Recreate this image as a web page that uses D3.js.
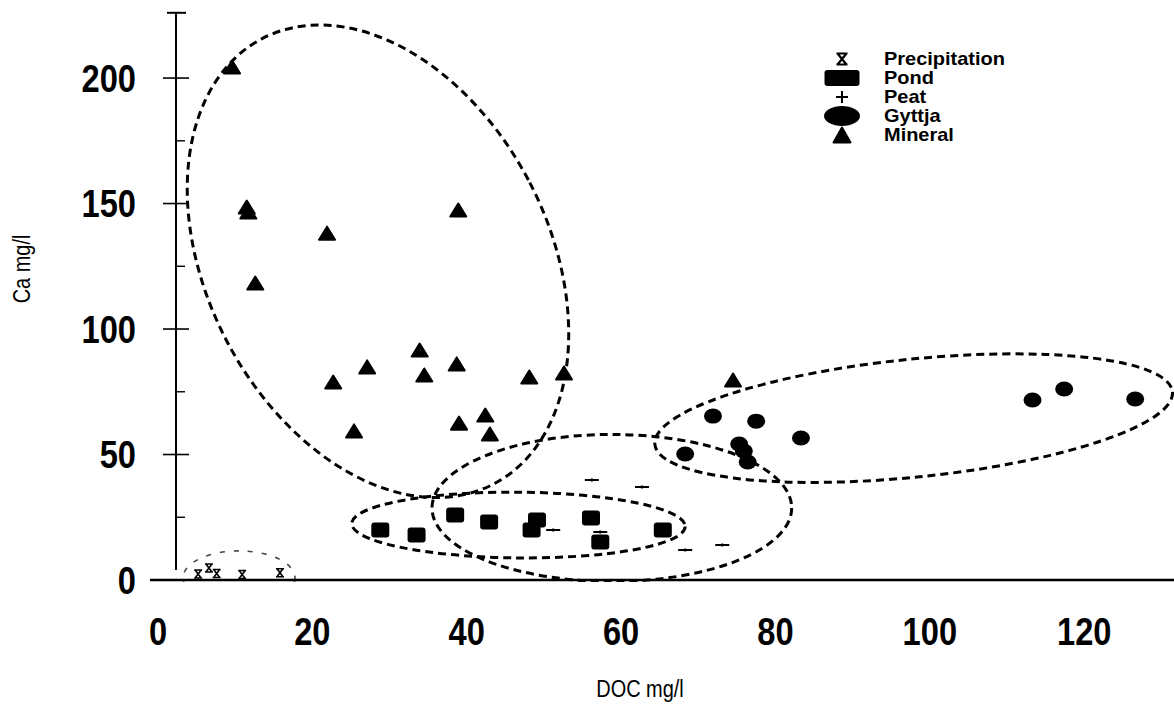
<!DOCTYPE html>
<html><head><meta charset="utf-8">
<script src="https://cdn.jsdelivr.net/npm/d3@7"></script>
<style>body{margin:0;background:#fff}svg{display:block;background:#fff}</style>
</head><body>
<svg id="chart" width="1174" height="705"></svg>
<script>
// ---- data (DOC mg/l, Ca mg/l) ----
const precipitation = [[5.2,0.8],[6.6,3.2],[7.6,1.0],[10.9,0.6],[15.8,1.3]];
const pond = [[28.8,19.9],[33.5,17.9],[38.5,25.9],[42.9,23.1],[49.1,23.9],[48.4,19.9],[56.1,24.7],[57.3,15.1],[65.4,19.9]];
const peat = [[56.2,39.8],[62.7,37.1],[51.2,19.9],[57.3,19.1],[68.3,12.0],[73.1,13.9]];
const gyttja = [[71.9,65.3],[77.5,63.3],[83.3,56.6],[68.3,50.2],[75.3,54.2],[75.9,51.4],[76.4,47.0],[113.3,71.7],[117.4,76.1],[126.6,72.1]];
const mineral = [[9.6,204.4],[11.5,148.6],[11.7,146.6],[21.9,138.2],[38.9,147.4],[12.6,118.3],[33.9,91.6],[27.1,84.9],[34.5,81.7],[38.7,86.1],[22.7,78.9],[48.1,80.9],[52.6,82.5],[42.4,65.7],[39.0,62.5],[43.0,58.2],[25.4,59.4],[74.5,79.7]];
const xTicks = [0,20,40,60,80,100,120];
const yTicks = [0,50,100,150,200];
const yMinorTicks = [25,75,125,175];
const legendLabels = ["Precipitation","Pond","Peat","Gyttja","Mineral"];
// group ellipses: centre (data), radii (data units), rotation (deg)
const ellipseCx = [28.5, 46.7, 58.8, 97.9, 10.5];
const ellipseCy = [127, 21.9, 28.7, 64.5, 0.8];
const ellipseRx = [22.15, 21.6, 23.3, 33.7, 7.25];
const ellipseRy = [100, 13.1, 29.3, 23.5, 10.8];
const ellipseAngle = [-27.4, 0.5, 0, -5.8, 0];

// ---- layout ----
const W = 1174, H = 705;
const svg = d3.select("#chart");
const x = d3.scaleLinear().domain([0, 131.5]).range([158, 1173]);
const y = d3.scaleLinear().domain([0, 226]).range([580, 12.8]);
const axisX = 176;
const FONT = "'Liberation Sans',Arial,sans-serif";

// ---- ellipses ----
svg.append("defs").append("clipPath").attr("id","plotclip")
  .append("rect").attr("x",0).attr("y",0).attr("width",W).attr("height",y(0)+2);
const kx = x(1)-x(0), ky = y(0)-y(1);
const eg = svg.append("g").attr("clip-path","url(#plotclip)");
ellipseCx.forEach((cx,i)=>{
  const thin = i===4;
  eg.append("ellipse")
    .attr("transform",`translate(${x(cx)},${y(ellipseCy[i])}) rotate(${ellipseAngle[i]})`)
    .attr("rx", ellipseRx[i]*kx).attr("ry", ellipseRy[i]*ky)
    .attr("fill","none").attr("stroke", thin? "#444":"#000")
    .attr("stroke-width", thin?1.6:3)
    .attr("stroke-dasharray", thin? "5,9":"8,5");
});

// ---- axes ----
svg.append("line").attr("x1",150).attr("x2",W).attr("y1",y(0)).attr("y2",y(0))
  .attr("stroke","#000").attr("stroke-width",2.5);
svg.append("line").attr("x1",axisX).attr("x2",axisX).attr("y1",y(226)).attr("y2",y(0)-10)
  .attr("stroke","#000").attr("stroke-width",2);
svg.append("line").attr("x1",axisX-9).attr("x2",axisX+10).attr("y1",y(226)).attr("y2",y(226))
  .attr("stroke","#000").attr("stroke-width",2);
yTicks.filter(d=>d>0).forEach(d=>{
  svg.append("line").attr("x1",axisX-13).attr("x2",axisX+13).attr("y1",y(d)).attr("y2",y(d))
    .attr("stroke","#000").attr("stroke-width",1.6);
});
yMinorTicks.forEach(d=>{
  svg.append("line").attr("x1",axisX).attr("x2",axisX+9).attr("y1",y(d)).attr("y2",y(d))
    .attr("stroke","#000").attr("stroke-width",1.4);
});
svg.append("g").selectAll("text").data(yTicks).join("text")
  .attr("transform",d=>`translate(136,${y(d)}) scale(0.86,1)`).attr("dy","0.36em").attr("text-anchor","end")
  .attr("font-family",FONT).attr("font-weight","bold").attr("font-size",38).text(d=>d);
svg.append("g").selectAll("text").data(xTicks).join("text")
  .attr("transform",d=>`translate(${x(d)},645) scale(0.86,1)`).attr("text-anchor","middle")
  .attr("font-family",FONT).attr("font-weight","bold").attr("font-size",38).text(d=>d);
svg.append("text").attr("transform","translate(30,269) rotate(-90) scale(0.95,1.1)").attr("text-anchor","middle")
  .attr("font-family",FONT).attr("font-size",21).text("Ca mg/l");
svg.append("text").attr("transform","translate(640,697) scale(0.95,1.1)").attr("text-anchor","middle")
  .attr("font-family",FONT).attr("font-size",21).text("DOC mg/l");

// ---- marker shapes (pixel offsets around a centre) ----
const shapes = {
  hourglass:(s)=>`M${-s/2},${-s/2}H${s/2}M${-s/2},${s/2}H${s/2}M${-s/2+1},${-s/2}L${s/2-1},${s/2}M${s/2-1},${-s/2}L${-s/2+1},${s/2}`,
  plus:(w,h)=>`M${-w/2},0H${w/2}M0,${-h/2}V${h/2}`,
  tri:(w,h)=>`M0,${-h/2}L${w/2},${h/2}L${-w/2},${h/2}Z`
};
function drawHourglass(g,cx,cy,s,sw){
  g.append("path").attr("transform",`translate(${cx},${cy})`).attr("d",shapes.hourglass(s))
    .attr("fill","none").attr("stroke","#000").attr("stroke-width",sw);
}
function drawRect(g,cx,cy,w,h){
  g.append("rect").attr("x",cx-w/2).attr("y",cy-h/2).attr("width",w).attr("height",h)
    .attr("rx",3).attr("fill","#000");
}
function drawPlus(g,cx,cy,w,h,sw){
  g.append("path").attr("transform",`translate(${cx},${cy})`).attr("d",shapes.plus(w,h))
    .attr("fill","none").attr("stroke","#000").attr("stroke-width",sw);
}
function drawEll(g,cx,cy,rx,ry){
  g.append("ellipse").attr("cx",cx).attr("cy",cy).attr("rx",rx).attr("ry",ry).attr("fill","#000");
}
function drawTri(g,cx,cy,w,h){
  g.append("path").attr("transform",`translate(${cx},${cy})`).attr("d",shapes.tri(w,h))
    .attr("fill","#000").attr("stroke","#000").attr("stroke-width",2).attr("stroke-linejoin","round");
}

const mg = svg.append("g");
precipitation.forEach(d=>drawHourglass(mg,x(d[0]),y(d[1])-4,8,1.6));
pond.forEach(d=>drawRect(mg,x(d[0]),y(d[1]),18,15));
peat.forEach(d=>drawPlus(mg,x(d[0]),y(d[1]),14,3,2));
gyttja.forEach(d=>drawEll(mg,x(d[0]),y(d[1]),9,7.5));
mineral.forEach(d=>drawTri(mg,x(d[0]),y(d[1]),16,13));

// ---- legend ----
const lg = svg.append("g");
const lx = 842, ly0 = 59, ldy = 19;
legendLabels.forEach((t,i)=>{
  const cy = ly0 + i*ldy;
  if(i===0) drawHourglass(lg,lx,cy,11,2.2);
  if(i===1) drawRect(lg,lx,cy,35,16);
  if(i===2) drawPlus(lg,lx,cy,12,12,2);
  if(i===3) drawEll(lg,lx,cy,18,10);
  if(i===4) drawTri(lg,lx,cy,17,15);
  lg.append("text").attr("transform",`translate(884,${cy}) scale(1.11,1)`).attr("dy","0.35em")
    .attr("font-family",FONT).attr("font-weight","bold").attr("font-size",18).text(t);
});
</script>
</body></html>
